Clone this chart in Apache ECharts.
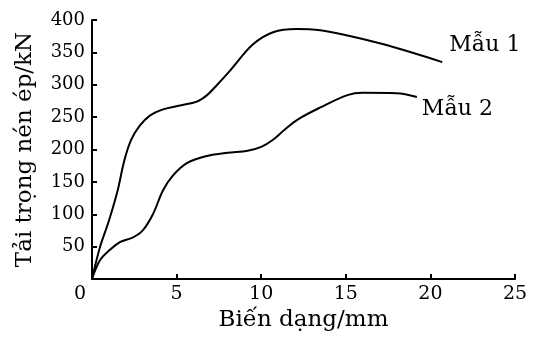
<!DOCTYPE html>
<html><head><meta charset="utf-8">
<script src="https://cdn.jsdelivr.net/npm/echarts@6/dist/echarts.min.js"></script>
<style>html,body{margin:0;padding:0;background:#fff}#c{width:534px;height:343px}</style>
</head><body><div id="c"></div>
<script>
var xTicks = [0, 5, 10, 15, 20, 25];
var yTicks = [0, 50, 100, 150, 200, 250, 300, 350, 400];
var xName = 'Biến dạng/mm';
var yName = 'Tải trọng nén ép/kN';
var series1Name = 'Mẫu 1';
var series2Name = 'Mẫu 2';
var mau1 = [[0,0],[0.47,49],[1.0,90],[1.5,135],[1.9,182],[2.3,214],[2.8,236],[3.4,252],[4.2,262],[5.2,268],[6.2,274],[6.8,284],[7.4,300],[8.2,323],[9.5,362],[10.7,381],[12.1,386],[13.5,384],[15.1,376],[17.0,364],[19.0,349],[20.7,335]];
var mau2 = [[0,0],[0.47,29],[1.06,45],[1.65,57],[2.4,64],[3.0,75],[3.6,100],[4.2,137],[4.79,160],[5.61,179],[6.8,190],[8.0,195],[9.2,198],[10.0,204],[10.7,215],[11.4,231],[12.2,247],[13.5,265],[15.1,284],[16.0,287.5],[18.0,287],[19.2,281]];

var FONT = 'DejaVu Serif';
var chart = echarts.init(document.getElementById('c'), null, {renderer:'canvas'});
var axisLine = {show:true, lineStyle:{color:'#000', width:2}};
chart.setOption({
  animation:false,
  backgroundColor:'#fff',
  grid:{left:92, right:19, top:20, bottom:64, containLabel:false},
  xAxis:{
    type:'value', min:xTicks[0], max:xTicks[xTicks.length-1], interval:5,
    name:xName, nameLocation:'middle', nameGap:28,
    nameTextStyle:{fontFamily:FONT, fontSize:23, color:'#000'},
    axisLine:axisLine,
    axisTick:{show:true, inside:true, length:5, lineStyle:{color:'#000', width:2}},
    splitLine:{show:false},
    axisLabel:{fontFamily:FONT, fontSize:19, color:'#000', margin:6,
      formatter:function(v){ return v===0 ? '{z|0}' : String(v); },
      rich:{z:{fontFamily:FONT, fontSize:19, color:'#000', padding:[0,24,0,0]}}}
  },
  yAxis:{
    type:'value', min:yTicks[0], max:yTicks[yTicks.length-1], interval:50,
    name:yName, nameLocation:'middle', nameGap:55, nameRotate:90,
    nameTextStyle:{fontFamily:FONT, fontSize:23, color:'#000'},
    axisLine:axisLine,
    axisTick:{show:true, inside:true, length:5, lineStyle:{color:'#000', width:2}},
    splitLine:{show:false},
    axisLabel:{fontFamily:FONT, fontSize:18, color:'#000', margin:7,
      formatter:function(v){ return v===0 ? '' : String(v); }}
  },
  series:[
    {type:'line', name:series1Name, data:mau1, smooth:0.35, symbol:'none',
     lineStyle:{color:'#000', width:2},
     endLabel:{show:true, formatter:series1Name, fontFamily:FONT, fontSize:22, color:'#000', distance:5, offset:[2,-17]}},
    {type:'line', name:series2Name, data:mau2, smooth:0.35, symbol:'none',
     lineStyle:{color:'#000', width:2},
     endLabel:{show:true, formatter:series2Name, fontFamily:FONT, fontSize:22, color:'#000', distance:5, offset:[0,12]}}
  ]
});
</script></body></html>
